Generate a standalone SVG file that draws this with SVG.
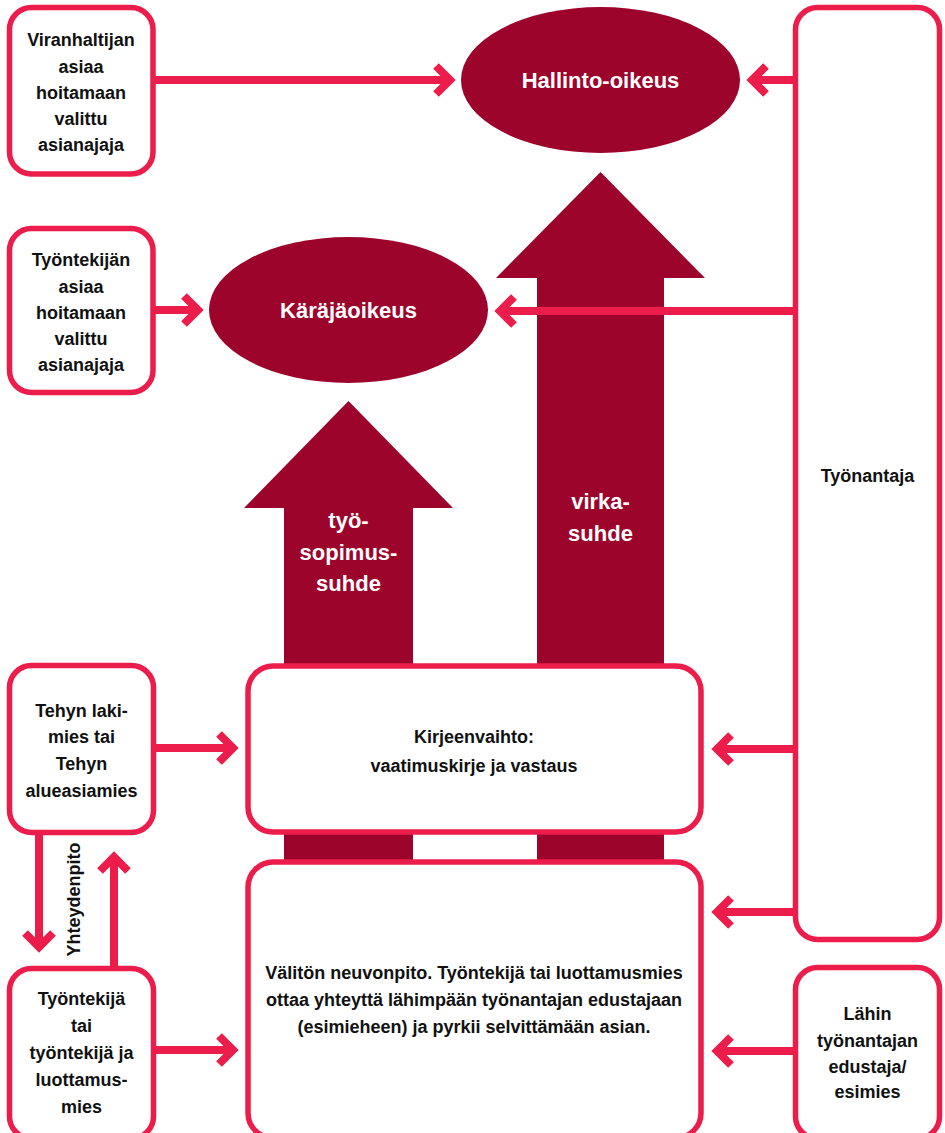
<svg xmlns="http://www.w3.org/2000/svg" width="945" height="1133" viewBox="0 0 945 1133">
<style>
.box{fill:#fff;stroke:#EC1C4B;stroke-width:5.5}
.big{fill:#9D042C}
.ell{fill:#9D042C}
.ln{stroke:#EC1C4B;stroke-width:8;fill:none}
.hd{stroke:#EC1C4B;stroke-width:8;fill:none;stroke-linejoin:miter;stroke-miterlimit:10}
.t{font-family:"Liberation Sans",Arial,sans-serif;font-weight:bold;font-size:18px;fill:#111;text-anchor:middle}
.w{font-family:"Liberation Sans",Arial,sans-serif;font-weight:bold;font-size:22px;fill:#fff;text-anchor:middle}
</style>
<rect width="945" height="1133" fill="#fff"/>
<g id="bigarrows">
<polygon id="arrow-tyosopimussuhde" class="big" points="348.5,401 453,508 413,508 413,870 284,870 284,508 244,508"/>
<polygon id="arrow-virkasuhde" class="big" points="600.5,172 705,278 664,278 664,870 537,870 537,278 496,278"/>
</g>
<g id="hallinto-oikeus"><ellipse class="ell" cx="600.5" cy="80" rx="139.5" ry="73"/><text class="w" x="600.5" y="88" font-size="23">Hallinto-oikeus</text></g>
<g id="karajaoikeus"><ellipse class="ell" cx="348.5" cy="310" rx="139.5" ry="73"/><text class="w" x="348.5" y="318" font-size="23">Käräjäoikeus</text></g>
<g id="viranhaltijan"><rect class="box" x="9.5" y="7.5" width="143.5" height="166.5" rx="22"/>
<text class="t" x="81" y="46">Viranhaltijan</text><text class="t" x="81" y="73">asiaa</text><text class="t" x="81" y="99">hoitamaan</text><text class="t" x="81" y="125">valittu</text><text class="t" x="81" y="151">asianajaja</text></g>
<g id="tyontekijan"><rect class="box" x="9.5" y="228.5" width="143.5" height="164" rx="22"/>
<text class="t" x="81" y="266">Työntekijän</text><text class="t" x="81" y="293">asiaa</text><text class="t" x="81" y="319">hoitamaan</text><text class="t" x="81" y="345">valittu</text><text class="t" x="81" y="371">asianajaja</text></g>
<g id="tyonantaja"><rect class="box" x="795.5" y="7.5" width="144" height="932" rx="22"/><text class="t" x="867.5" y="482">Työnantaja</text></g>
<g id="tehyn"><rect class="box" x="9.5" y="665.5" width="144" height="167" rx="22"/>
<text class="t" x="81.5" y="717">Tehyn laki-</text><text class="t" x="81.5" y="743">mies tai</text><text class="t" x="81.5" y="770">Tehyn</text><text class="t" x="81.5" y="797">alueasiamies</text></g>
<g id="kirjeenvaihto"><rect class="box" x="248" y="666" width="453" height="166" rx="25"/>
<text class="t" x="474" y="743">Kirjeenvaihto:</text><text class="t" x="474" y="772">vaatimuskirje ja vastaus</text></g>
<g id="valiton"><rect class="box" x="248" y="862" width="453" height="276" rx="25"/>
<text class="t" x="474" y="979">Välitön neuvonpito. Työntekijä tai luottamusmies</text><text class="t" x="474" y="1006">ottaa yhteyttä lähimpään työnantajan edustajaan</text><text class="t" x="474" y="1033">(esimieheen) ja pyrkii selvittämään asian.</text></g>
<g id="tyontekija"><rect class="box" x="9.5" y="968.5" width="144" height="170" rx="22"/>
<text class="t" x="81.5" y="1005">Työntekijä</text><text class="t" x="81.5" y="1032">tai</text><text class="t" x="81.5" y="1059">työntekijä ja</text><text class="t" x="81.5" y="1086">luottamus-</text><text class="t" x="81.5" y="1113">mies</text></g>
<g id="lahin"><rect class="box" x="795.5" y="967.5" width="144" height="171" rx="22"/>
<text class="t" x="867.5" y="1020">Lähin</text><text class="t" x="867.5" y="1047">työnantajan</text><text class="t" x="867.5" y="1073">edustaja/</text><text class="t" x="867.5" y="1098">esimies</text></g>
<g id="arrowlabels">
<text class="w" x="348.5" y="528">työ-</text><text class="w" x="348.5" y="560">sopimus-</text><text class="w" x="348.5" y="591">suhde</text>
<text class="w" x="600.5" y="509">virka-</text><text class="w" x="600.5" y="541">suhde</text>
</g>
<g id="connectors">
<line class="ln" x1="155" y1="80" x2="448" y2="80"/><polyline class="hd" points="436,66 450,80 436,94"/>
<line class="ln" x1="794" y1="80" x2="754" y2="80"/><polyline class="hd" points="766,66 752,80 766,94"/>
<line class="ln" x1="155" y1="310" x2="196" y2="310"/><polyline class="hd" points="184,296 198,310 184,324"/>
<line class="ln" x1="794" y1="311" x2="502" y2="311"/><polyline class="hd" points="514,297 500,311 514,325"/>
<line class="ln" x1="155" y1="748" x2="231" y2="748"/><polyline class="hd" points="219,734 233,748 219,762"/>
<line class="ln" x1="794" y1="749" x2="719" y2="749"/><polyline class="hd" points="731,735 717,749 731,763"/>
<line class="ln" x1="794" y1="912" x2="719" y2="912"/><polyline class="hd" points="731,898 717,912 731,926"/>
<line class="ln" x1="155" y1="1050" x2="231" y2="1050"/><polyline class="hd" points="219,1036 233,1050 219,1064"/>
<line class="ln" x1="794" y1="1051" x2="719" y2="1051"/><polyline class="hd" points="731,1037 717,1051 731,1065"/>
<line class="ln" x1="39" y1="834" x2="39" y2="945"/><polyline class="hd" points="25,933 39,947 53,933"/>
<line class="ln" x1="114" y1="967" x2="114" y2="859"/><polyline class="hd" points="100,871 114,857 128,871"/>
<text class="t" font-size="16.5" transform="translate(80,899.5) rotate(-90)">Yhteydenpito</text>
</g>
</svg>
